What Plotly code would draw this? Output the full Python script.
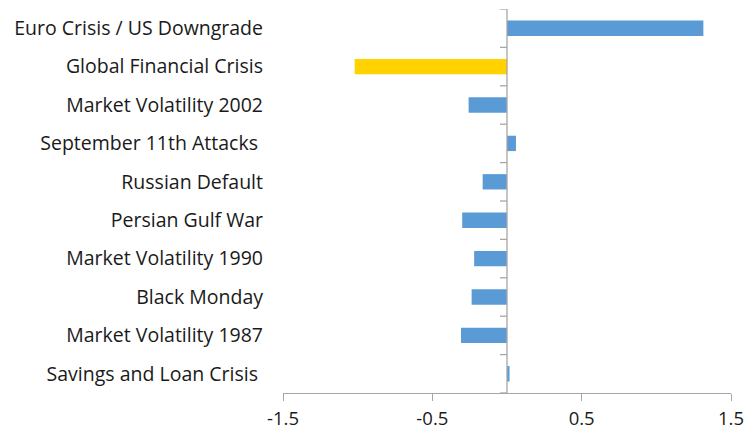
import plotly.graph_objects as go

# Events, top to bottom, with their relative performance values
events = [
    "Euro Crisis / US Downgrade",
    "Global Financial Crisis",
    "Market Volatility 2002",
    "September 11th Attacks\u00a0",
    "Russian Default",
    "Persian Gulf War",
    "Market Volatility 1990",
    "Black Monday",
    "Market Volatility 1987",
    "Savings and Loan Crisis\u00a0",
]
values = [1.315, -1.02, -0.257, 0.06, -0.163, -0.30, -0.22, -0.237, -0.308, 0.017]
highlight = "Global Financial Crisis"
x_ticks = [-1.5, -0.5, 0.5, 1.5]

BLUE = "#5B9BD5"
GOLD = "#FFD200"
AXIS = "#A6A6A6"

positions = list(range(len(events)))
colors = [GOLD if e == highlight else BLUE for e in events]

fig = go.Figure(
    go.Bar(
        x=values,
        y=positions,
        orientation="h",
        width=0.4,
        marker=dict(color=colors, line=dict(width=0)),
        hoverinfo="skip",
    )
)

# Vertical axis line through zero, with tick marks between categories
shapes = [
    dict(type="line", xref="x", yref="paper", x0=0, x1=0, y0=0, y1=1,
         line=dict(color=AXIS, width=1.3), layer="above")
]
for b in [p - 0.5 for p in positions] + [len(events) - 0.5]:
    shapes.append(
        dict(type="line", xref="x", yref="y", xsizemode="pixel", xanchor=0,
             x0=-7, x1=0, y0=b, y1=b, line=dict(color=AXIS, width=1.3))
    )

fig.update_layout(
    width=748,
    height=435,
    margin=dict(l=283, r=17, t=9, b=42),
    paper_bgcolor="white",
    plot_bgcolor="white",
    showlegend=False,
    font=dict(family="'Open Sans', sans-serif", size=19.5, color="#1A1A1A"),
    shapes=shapes,
    xaxis=dict(
        range=[-1.5, 1.5],
        tickmode="array",
        tickvals=x_ticks,
        ticktext=[f"{v:g}" for v in x_ticks],
        tickfont=dict(size=18.5),
        showgrid=False,
        zeroline=False,
        showline=True,
        linecolor=AXIS,
        linewidth=1.3,
        ticks="outside",
        ticklen=7,
        tickwidth=1.3,
        tickcolor=AXIS,
        ticklabelstandoff=2,
        automargin=False,
        fixedrange=True,
    ),
    yaxis=dict(
        range=[len(events) - 0.5, -0.5],
        tickmode="array",
        tickvals=positions,
        ticktext=events,
        showgrid=False,
        zeroline=False,
        showline=False,
        ticks="",
        ticklabelstandoff=19,
        automargin=False,
        fixedrange=True,
    ),
)

fig.write_html("out.html")
